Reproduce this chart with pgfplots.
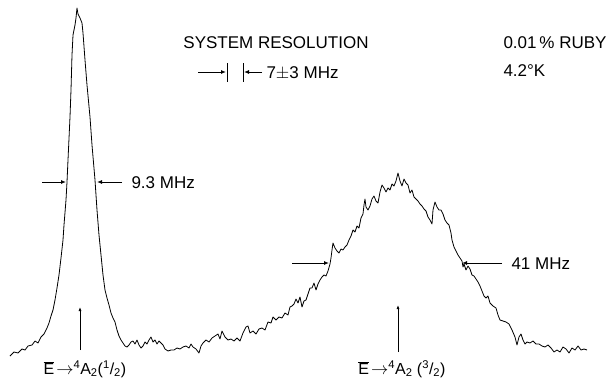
\documentclass[border=0pt]{standalone}
\usepackage{fontspec}
\setmainfont{Liberation Sans}
\usepackage{pgfplots}
\pgfplotsset{compat=1.18}
\usetikzlibrary{arrows.meta}
\begin{document}
\begin{tikzpicture}
\begin{axis}[
  scale only axis, width=614pt, height=383pt,
  xmin=0, xmax=614, ymin=0, ymax=383, y dir=reverse,
  hide axis, clip=false,
]
\addplot[black, line width=0.8pt, line join=round, mark=none] coordinates {
(10,356)(14,352)(18,353)(22,349)(25,350)(28,346)(32,345)(35,341)(38,343)(41,337)(44,334)(47,328)(49,323)(51,316)(53,310)(55,300)(57,288)(59,275)(61,258)(63,240)(64,225)(66,200)(67,182)(68,160)(70,117)(71,90)(72,55)(73,35)(74,30)(75,25)(76,18)(77,8)(78,14)(80,18)(82,23)(83,33)(85,60)(87,85)(90,117)(92,145)(95,180)(97,210)(99,235)(100,245)(102,265)(103,275)(105,290)(107,298)(109,305)(111,313)(113,318)(115,322)(117,330)(119,336)(121,340)(123,343)(125,346)(127,347)(129,345)(131,342)(133,341)(135,344)(137,340)(139,345)(141,348)(143,346)(145,342)(147,344)(149,340)(151,337)(153,342)(155,340)(157,344)(159,341)(161,343)(163,345)(165,349)(168,351)(171,350)(174,350)(177,348)(180,349)(183,347)(186,346)(189,348)(191,344)(193,347)(196,349)(199,353)(201,346)(203,343)(206,340)(209,342)(212,338)(215,336)(218,334)(220,339)(222,331)(225,337)(228,340)(231,339)(234,341)(237,338)(240,341)(243,333)(246,327)(248,326)(250,333)(253,331)(256,334)(259,329)(262,328)(265,330)(268,322)(271,323)(273,317)(276,320)(279,317)(282,318)(285,313)(288,315)(290,307)(292,306)(294,304)(296,299)(298,303)(300,297)(302,307)(304,301)(306,300)(308,294)(310,288)(312,288)(314,283)(316,290)(318,284)(320,280)(322,277)(324,275)(326,276)(328,271)(330,264)(331,258)(332,250)(333,243)(335,248)(337,251)(339,253)(341,249)(343,250)(345,247)(347,245)(349,240)(351,236)(353,230)(355,232)(357,226)(359,228)(361,218)(363,214)(364,205)(365,199)(366,207)(368,210)(370,206)(372,199)(374,196)(376,201)(378,203)(380,192)(382,185)(384,188)(386,192)(388,188)(390,190)(392,184)(394,186)(396,181)(398,173)(400,181)(402,186)(404,179)(406,183)(408,185)(410,193)(412,190)(414,197)(416,199)(418,201)(420,204)(422,206)(424,209)(426,211)(428,217)(430,220)(432,224)(433,210)(435,202)(437,207)(439,210)(441,210)(443,214)(445,220)(447,223)(449,225)(451,233)(452,240)(454,247)(456,251)(458,255)(460,258)(462,261)(463,267)(464,264)(466,270)(468,266)(470,269)(472,275)(474,276)(476,279)(478,282)(480,286)(482,291)(484,296)(486,298)(488,296)(490,303)(493,306)(496,308)(498,315)(500,320)(503,321)(506,322)(509,324)(512,330)(515,337)(517,345)(519,337)(521,334)(523,340)(525,344)(527,342)(530,343)(533,341)(536,344)(539,344)(542,346)(545,347)(548,345)(551,348)(554,352)(557,350)(560,352)(563,347)(566,349)(569,353)(572,348)(575,350)(578,346)(581,350)(584,349)(587,350)
};
% half-width markers
\draw[line width=0.9pt,-{Latex[length=5pt,width=4pt]}] (axis cs:42,182) -- (axis cs:66,182);
\draw[line width=0.9pt,-{Latex[length=5pt,width=4pt]}] (axis cs:122,182) -- (axis cs:97,182);
\node[anchor=west,font=\fontsize{17}{20}\selectfont] at (axis cs:128,183) {9.3 MHz};
\draw[line width=0.9pt,-{Latex[length=5pt,width=4pt]}] (axis cs:292,263) -- (axis cs:329,263);
\draw[line width=0.9pt,-{Latex[length=5pt,width=4pt]}] (axis cs:502,263) -- (axis cs:462,263);
\node[anchor=west,font=\fontsize{17}{20}\selectfont] at (axis cs:508,264) {41 MHz};
% line markers
\draw[line width=0.9pt,-{Latex[length=4pt,width=3pt]}] (axis cs:80,350) -- (axis cs:80,307);
\draw[line width=0.8pt,-{Latex[length=4pt,width=3pt]}] (axis cs:398,352) -- (axis cs:398,305);
\node[font=\fontsize{16}{19}\selectfont] at (axis cs:85,369) {$\overline{\mbox{E}}\!\rightarrow$\textsuperscript{4}A\textsubscript{2}(\textsuperscript{1}/\textsubscript{2})};
\node[font=\fontsize{16}{19}\selectfont] at (axis cs:402,369) {$\overline{\mbox{E}}\!\rightarrow$\textsuperscript{4}A\textsubscript{2} (\textsuperscript{3}/\textsubscript{2})};
% system resolution
\node[font=\fontsize{17}{20}\selectfont] at (axis cs:276,43) {SYSTEM RESOLUTION};
\draw[line width=0.9pt,-{Latex[length=5pt,width=4pt]}] (axis cs:198,72) -- (axis cs:226,72);
\draw[line width=0.7pt] (axis cs:227,63) -- (axis cs:227,82);
\draw[line width=0.7pt] (axis cs:243,63) -- (axis cs:243,82);
\draw[line width=0.9pt,-{Latex[length=5pt,width=4pt]}] (axis cs:262,72) -- (axis cs:244,72);
\node[anchor=west,font=\fontsize{17}{20}\selectfont] at (axis cs:263,73) {7$\pm$3 MHz};
\node[anchor=west,font=\fontsize{17}{20}\selectfont] at (axis cs:500,43) {0.01\,\% RUBY};
\node[anchor=west,font=\fontsize{17}{20}\selectfont] at (axis cs:500,71) {4.2°K};
\end{axis}
\pgfresetboundingbox
\path (current axis.south west) rectangle (current axis.north east);
\end{tikzpicture}
\end{document}
